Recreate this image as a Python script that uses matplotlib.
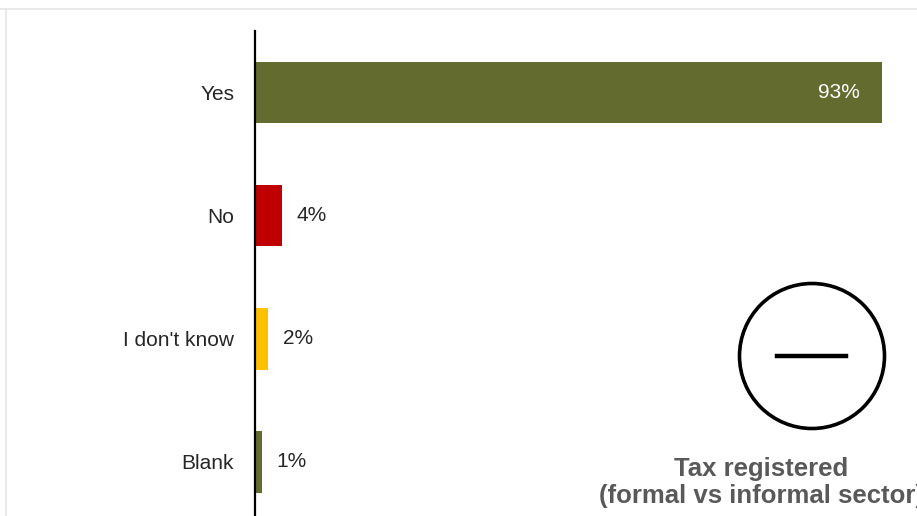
import matplotlib.pyplot as plt
from matplotlib.lines import Line2D
from matplotlib.patches import Circle

categories = ["Yes", "No", "I don't know", "Blank"]
values = [93, 4, 2, 1]
colors = ["#636b2f", "#c00000", "#ffc000", "#636b2f"]
title_lines = ["Tax registered", "(formal vs informal sector)"]

plt.rcParams["font.family"] = ["Liberation Sans", "DejaVu Sans"]

W, H, DPI = 917, 516, 100
fig = plt.figure(figsize=(W / DPI, H / DPI), dpi=DPI)

# frame lines of the original screenshot
fig.add_artist(Line2D([0, 1], [1 - 9 / H, 1 - 9 / H], color="#e6e6e6", lw=1.2,
                      transform=fig.transFigure))
fig.add_artist(Line2D([6 / W, 6 / W], [0, 1 - 9 / H], color="#e6e6e6", lw=1.2,
                      transform=fig.transFigure))

ax = fig.add_axes([255 / W, 0, 662 / W, (H - 31) / H])
px_per_unit = 627 / 93
ypos = list(range(len(categories)))
ax.barh(ypos, values, height=0.5, color=colors)
ax.set_xlim(0, 662 / px_per_unit)
ax.set_ylim(3.44, -0.5)

for y, v in zip(ypos, values):
    if v > 50:
        ax.text(v - 3.3, y, f"{v}%", ha="right", va="center", color="white", fontsize=15)
    else:
        ax.text(v + 2.2, y, f"{v}%", ha="left", va="center", color="#262626", fontsize=15)

ax.set_yticks(ypos)
ax.set_yticklabels(categories, fontsize=15, color="#262626")
ax.tick_params(axis="y", length=0, pad=15)
ax.set_xticks([])
for s in ["top", "right", "bottom"]:
    ax.spines[s].set_visible(False)
ax.spines["left"].set_linewidth(1.6)

# minus-sign badge
fig.add_artist(Circle((8.12, 1.60), 0.725, fill=False, lw=2.6, color="black",
                      transform=fig.dpi_scale_trans))
fig.add_artist(Line2D([7.77, 8.46], [1.60, 1.60], lw=3.2, color="black",
                      transform=fig.dpi_scale_trans))

for line, ypx in zip(title_lines, [469, 496]):
    fig.text(761 / W, 1 - ypx / H, line, ha="center", va="center",
             fontsize=18.5, fontweight="bold", color="#595959")

fig.savefig("out.png", dpi=DPI)
